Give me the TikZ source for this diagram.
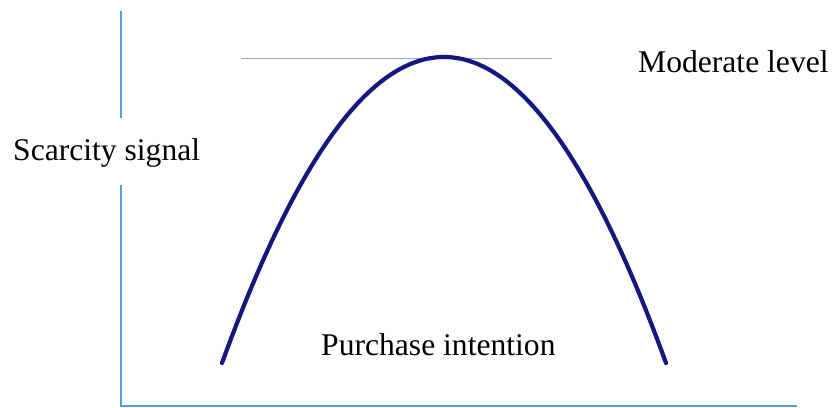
\documentclass[tikz,border=0pt]{standalone}
\usepackage{fontspec}
\setmainfont{Liberation Serif}
\definecolor{axisblue}{HTML}{5B9BD5}
\definecolor{levelline}{HTML}{8FA9CC}
\definecolor{curvenavy}{HTML}{16167F}
\begin{document}
\begin{tikzpicture}[x=1pt,y=-1pt,
  axis/.style={draw=axisblue,line width=1.3pt},
  lbl/.style={font=\fontsize{31.6}{36}\selectfont,inner sep=0pt,anchor=base west}]
\useasboundingbox (0,0) rectangle (832,407);
\coordinate (ytop) at (121,11);
\coordinate (ygapa) at (121,118);
\coordinate (ygapb) at (121,185);
\coordinate (origin) at (121,406);
\coordinate (xend) at (797,406);
\draw[axis] (ytop) -- (ygapa);
\draw[axis] (ygapb) -- (origin) -- (xend);
\coordinate (la) at (241,58.5);
\coordinate (lb) at (552,58.5);
\draw[draw=levelline,line width=1pt] (la) -- (lb);
\coordinate (cl) at (222,363);
\coordinate (cr) at (666,363);
\draw[curvenavy,line width=4.2pt,line cap=round] (cl) .. controls (370,-45) and (518,-45) .. (cr);
\node[lbl] (scar) at (13,160) {Scarcity signal};
\node[lbl] (mod) at (638,72) {Moderate level};
\node[lbl] (pur) at (321,355) {Purchase intention};
\end{tikzpicture}
\end{document}
